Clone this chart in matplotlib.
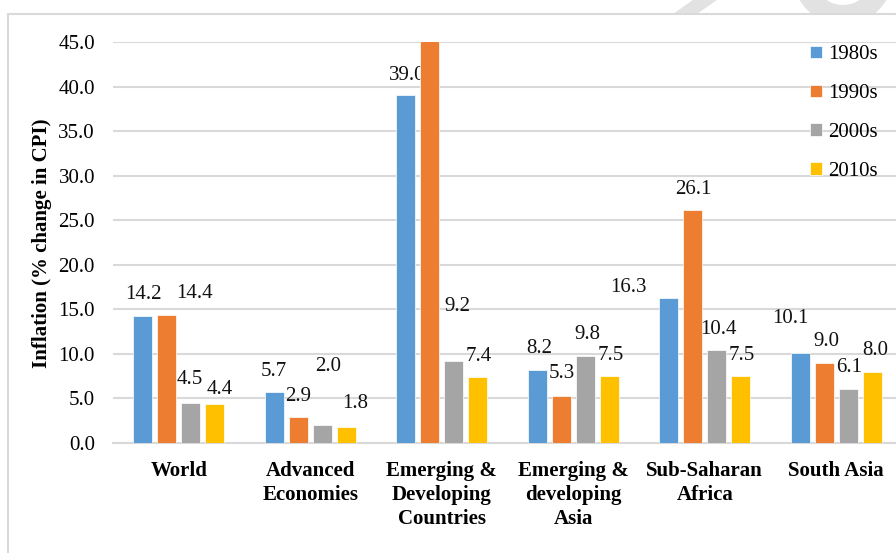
import matplotlib
matplotlib.use("Agg")
import matplotlib.pyplot as plt
from matplotlib.patches import Rectangle, Wedge, Polygon
import numpy as np

plt.rcParams["font.family"] = ["Liberation Serif", "DejaVu Serif"]

categories = ["World", "Advanced\nEconomies", "Emerging &\nDeveloping\nCountries",
              "Emerging &\ndeveloping\nAsia", "Sub-Saharan\nAfrica", "South Asia"]
series_names = ["1980s", "1990s", "2000s", "2010s"]
v1980s = [14.2, 5.7, 39.0, 8.2, 16.3, 10.1]
v1990s = [14.4, 2.9, 52.0, 5.3, 26.1, 9.0]
v2000s = [4.5, 2.0, 9.2, 9.8, 10.4, 6.1]
v2010s = [4.4, 1.8, 7.4, 7.5, 7.5, 8.0]
yticks = [0, 5, 10, 15, 20, 25, 30, 35, 40, 45]

colors = ["#5B9BD5", "#ED7D31", "#A5A5A5", "#FFC000"]

# label placement (pixels: right, up from bar top centre), per group and series
label_offsets = [
    [(1, 22), (28, 21), (-1, 23), (5, 14)],
    [(0, 21), (0, 21), (6, 59), (9, 23)],
    [(1, 20), (0, 21), (4, 55), (1, 21)],
    [(2, 21), (1, 22), (2, 21), (2, 21)],
    [(-40, 10), (1, 21), (2, 21), (1, 21)],
    [(-10, 34), (2, 21), (1, 21), (3, 21)],
]

W, H = 896, 553
fig = plt.figure(figsize=(W / 100, H / 100), dpi=100)
fig.patch.set_facecolor("white")

# background layer in pixel coordinates: faint watermark and chart frame
bg = fig.add_axes([0, 0, 1, 1], zorder=-1)
bg.set_xlim(0, W)
bg.set_ylim(H, 0)
bg.axis("off")
wm = "#e2e2e2"
bg.add_patch(Wedge((843, -25), 50, 0, 360, width=20, facecolor=wm, edgecolor="none", zorder=1))
bg.add_patch(Polygon([(673, 14), (700, -5), (724, -5), (697, 14)], closed=True,
                     facecolor=wm, edgecolor="none", zorder=1))
bg.add_patch(Rectangle((8, 14), 1000, 700, facecolor="white", edgecolor="#d9d9d9",
                       linewidth=1.5, zorder=2))

ax = fig.add_axes([113 / W, (H - 443) / H, (902 - 113) / W, (443 - 42) / H])
ax.set_facecolor("none")

x = np.arange(len(categories))
pitch = 0.1825
width = 0.1445
data = [v1980s, v1990s, v2000s, v2010s]
fs = 15

for k, (name, vals) in enumerate(zip(series_names, data)):
    pos = x + (k - 1.5) * pitch
    bars = ax.bar(pos, vals, width, color=colors[k], label=name, zorder=3,
                  edgecolor="white", linewidth=0.5)
    for i, (b, v) in enumerate(zip(bars, vals)):
        if v > yticks[-1]:
            continue
        dx, dy = label_offsets[i][k]
        ax.annotate(f"{v:.1f}", (b.get_x() + b.get_width() / 2, v),
                    xytext=(dx, dy), textcoords="offset pixels",
                    ha="center", va="center", fontsize=fs, color="#111111")

ax.set_ylim(0, 45)
ax.set_xlim(-0.5, len(categories) - 0.5)
ax.set_yticks(yticks)
ax.set_yticklabels([f"{t:.1f}" for t in yticks], fontsize=fs)
ax.set_xticks(x)
ax.set_xticklabels(categories, fontsize=fs, fontweight="bold", linespacing=1.25)
ax.tick_params(axis="x", length=0, pad=13)
ax.tick_params(axis="y", length=0, pad=13)
ax.grid(axis="y", color="#d9d9d9", linewidth=1.5, zorder=0)
for s in ["top", "right", "left"]:
    ax.spines[s].set_visible(False)
ax.spines["bottom"].set_color("#d9d9d9")
ax.spines["bottom"].set_linewidth(1.5)

fig.text(42 / W, 1 - 243 / H, "Inflation (% change in CPI)", rotation=90,
         ha="center", va="center", fontsize=fs, fontweight="bold")

leg = ax.legend(loc="upper left", bbox_to_anchor=(800 / W, 1 - 35 / H),
                bbox_transform=fig.transFigure, frameon=False, fontsize=fs,
                handlelength=0.55, handleheight=0.55, handletextpad=0.3,
                labelspacing=0.95, borderpad=0)

fig.savefig("out.png", dpi=100)
